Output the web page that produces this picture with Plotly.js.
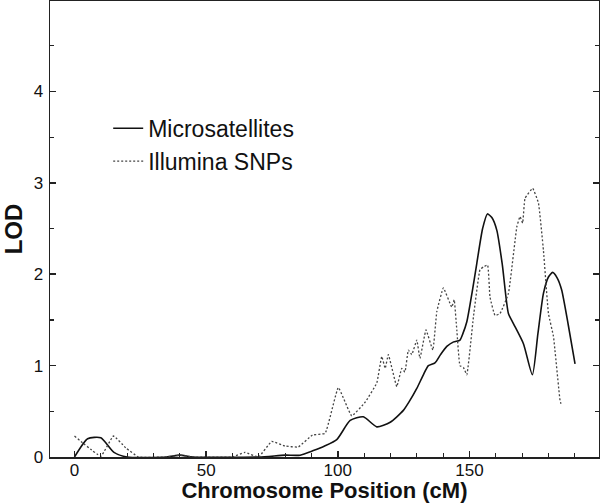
<!DOCTYPE html>
<html>
<head>
<meta charset="utf-8">
<script src="https://cdn.plot.ly/plotly-3.0.1.min.js"></script>
<style>
  html, body { margin: 0; padding: 0; background: #fff; }
  #chart { width: 600px; height: 503px; }
</style>
</head>
<body>
<div id="chart"></div>
<script>
// LOD scores along the chromosome
const microPos = [0, 5, 10, 15, 20, 35, 40, 45, 70, 80, 85.7, 90.7, 95, 99.6, 104.7, 109.7, 114.8, 119.9,
    124.9, 127, 130, 132.5, 134.4, 136.9, 139, 141.4, 144, 146.4, 147.5, 149, 151, 152.8, 155, 156.8,
    158.5, 160.4, 162.5, 164.8, 166.7, 170.5, 173.9, 176, 178.1, 180, 181.6, 183.3, 185, 187.5, 190.1];
const microLod = [0, 0.2, 0.21, 0.05, 0, 0, 0.02, 0, 0, 0.02, 0.02, 0.07, 0.12, 0.19, 0.40, 0.44, 0.33, 0.38,
    0.51, 0.6, 0.75, 0.9, 1.0, 1.03, 1.12, 1.21, 1.26, 1.28, 1.35, 1.48, 1.8, 2.12, 2.5, 2.66,
    2.62, 2.48, 2.1, 1.57, 1.46, 1.24, 0.90, 1.35, 1.79, 1.97, 2.02, 1.96, 1.83, 1.45, 1.02];

const snpPos = [0, 10, 14.8, 19.5, 24.3, 35, 40, 45, 59.8, 64.8, 69.9, 74.9, 80, 85, 90.4, 95.2, 100.2,
    105.3, 110.4, 114.8, 116.7, 118, 119.2, 122.4, 124.3, 125.5, 126.8, 128.1, 130, 131.2, 133.5, 136.1,
    137.6, 140.1, 143.3, 144.2, 145.2, 146.4, 147.7, 149, 151.5, 154, 155.3, 156.9, 157.8, 159.7, 161.6,
    164.8, 168, 169.2, 170.2, 171.1, 174, 176.2, 178.1, 180, 181.9, 184.4, 185];
const snpLod = [0.23, 0.01, 0.23, 0.1, 0, 0, 0.02, 0, 0, 0.05, 0, 0.17, 0.12, 0.11, 0.24, 0.26, 0.76,
    0.45, 0.6, 0.81, 1.10, 0.97, 1.12, 0.77, 0.97, 0.93, 1.17, 1.12, 1.28, 1.08, 1.39, 1.17,
    1.59, 1.85, 1.64, 1.72, 1.39, 1.0, 0.98, 0.90, 1.53, 2.05, 2.08, 2.1, 1.75, 1.55, 1.57,
    1.79, 2.52, 2.63, 2.56, 2.83, 2.94, 2.78, 2.26, 1.57, 1.32, 0.62, 0.56];

const FONT = 'Liberation Sans, Arial, Helvetica, sans-serif';
const AXIS_COLOR = '#222';

const traces = [
    {
        x: microPos,
        y: microLod,
        name: 'Microsatellites',
        type: 'scatter',
        mode: 'lines',
        line: { color: '#111', width: 1.6, shape: 'spline', smoothing: 0.6 }
    },
    {
        x: snpPos,
        y: snpLod,
        name: 'Illumina SNPs',
        type: 'scatter',
        mode: 'lines',
        line: { color: '#444', width: 1.3, dash: '2px,2px', shape: 'spline', smoothing: 0.3 }
    }
];

const axisCommon = {
    showline: true,
    linecolor: AXIS_COLOR,
    linewidth: 1.5,
    showgrid: false,
    zeroline: false,
    ticks: 'inside',
    ticklen: 6,
    tickwidth: 1.5,
    tickcolor: AXIS_COLOR,
    tickfont: { family: FONT, size: 17, color: '#111' }
};

const layout = {
    width: 600,
    height: 503,
    margin: { l: 50, r: 1, t: 1, b: 46 },
    paper_bgcolor: '#fff',
    plot_bgcolor: '#fff',
    font: { family: FONT, color: '#111' },
    showlegend: true,
    legend: {
        x: 0.106,
        y: 0.768,
        xanchor: 'left',
        yanchor: 'top',
        bgcolor: 'rgba(0,0,0,0)',
        font: { family: FONT, size: 23, color: '#111' },
        tracegroupgap: 0
    },
    xaxis: {
        ...axisCommon,
        range: [-9.3, 199.2],
        mirror: true,
        tick0: 0,
        dtick: 50,
        ticklabelstandoff: -3,
        minor: { dtick: 10, tick0: 0, ticks: 'inside', ticklen: 4, tickwidth: 1.2, tickcolor: AXIS_COLOR },
        title: {
            text: 'Chromosome Position (cM)',
            font: { family: FONT, size: 22, weight: 'bold', color: '#111' },
            standoff: 5
        }
    },
    yaxis: {
        ...axisCommon,
        range: [0, 4.99],
        mirror: 'ticks',
        tick0: 0,
        dtick: 1,
        ticklabelstandoff: 2,
        minor: { dtick: 0.5, tick0: 0, ticks: 'inside', ticklen: 4, tickwidth: 1.2, tickcolor: AXIS_COLOR },
        title: {
            text: 'LOD',
            font: { family: FONT, size: 24, weight: 'bold', color: '#111' },
            standoff: 9
        }
    }
};

Plotly.newPlot('chart', traces, layout, { displayModeBar: false, staticPlot: true });
</script>
</body>
</html>
